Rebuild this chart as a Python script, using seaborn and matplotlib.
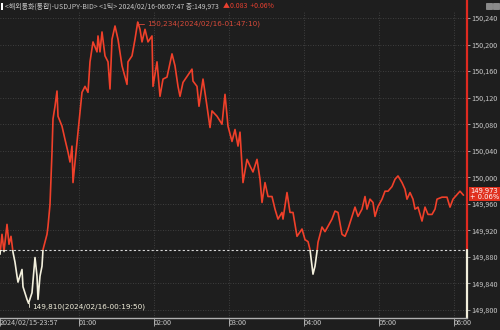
import numpy as np
import pandas as pd
import matplotlib
matplotlib.use("Agg")
import matplotlib.pyplot as plt
import matplotlib.dates as mdates
import matplotlib.transforms as mtransforms
from matplotlib.patches import Rectangle
import seaborn as sns

# ---- data ----
start_time = "2024-02-15 23:57"
minutes = [0, 1.6, 3.2, 5.6, 7.2, 8.8, 10.4, 12, 13.6, 14.4, 17.6, 18.4, 21.6, 22.83, 25.6, 28,
           29.6, 30.4, 32, 33.6, 34.4, 37.6, 38.4, 40, 41.6, 42.4, 44, 45.6, 46.4, 49.6, 52, 54.4,
           56, 57.6, 58.4, 60, 62.4, 65.6, 68, 70.4, 72, 74.4, 77.6, 78.4, 80, 81.6, 84, 86.4, 88,
           89.6, 92, 94.4, 97.6, 101.6, 102.4, 105.6, 108, 110.17, 112, 113.6, 116, 118.4, 121.6,
           122.4, 125.6, 128, 130.4, 133.6, 137.6, 140, 142.4, 144, 146.4, 149.6, 153.6, 154.4,
           157.6, 159.2, 162.4, 165.6, 168, 169.6, 173.6, 177.6, 180, 182.4, 185.6, 188, 190.4,
           192, 193.6, 194.4, 197.6, 200, 202.4, 205.6, 208, 209.6, 212, 214.4, 217.6, 220, 222.4,
           225.6, 226.4, 229.6, 232, 234.4, 237.6, 241.6, 244, 246.4, 248, 249.6, 250.4, 252,
           253.6, 254.4, 257.6, 260, 262.4, 265.6, 268, 270.4, 273.6, 276, 278.4, 281.6, 284,
           286.4, 289.6, 292, 293.6, 296, 298.4, 300, 302.4, 305.6, 308, 310.4, 313.6, 316, 318.4,
           321.6, 324, 325.6, 328, 330.4, 332, 334.4, 337.6, 340, 342.4, 345.6, 348, 349.6, 353.6,
           357.6, 360, 362.4, 365.6, 368, 370.8]
prices = [149.884, 149.914, 149.888, 149.929, 149.899, 149.911, 149.887, 149.872, 149.851,
          149.842, 149.861, 149.835, 149.816, 149.810, 149.826, 149.879, 149.851, 149.816,
          149.851, 149.866, 149.891, 149.914, 149.926, 149.959, 150.038, 150.088, 150.107,
          150.130, 150.092, 150.077, 150.057, 150.038, 150.023, 150.047, 149.992, 150.023,
          150.068, 150.128, 150.137, 150.128, 150.174, 150.204, 150.189, 150.213, 150.189,
          150.219, 150.183, 150.174, 150.133, 150.208, 150.228, 150.208, 150.168, 150.140,
          150.174, 150.183, 150.208, 150.234, 150.223, 150.204, 150.223, 150.204, 150.213,
          150.137, 150.174, 150.122, 150.148, 150.151, 150.186, 150.168, 150.137, 150.122,
          150.143, 150.152, 150.163, 150.145, 150.137, 150.107, 150.148, 150.107, 150.075,
          150.100, 150.092, 150.080, 150.125, 150.077, 150.054, 150.072, 150.047, 150.068,
          150.017, 149.992, 150.027, 150.017, 150.008, 150.027, 149.997, 149.962, 149.992,
          149.971, 149.971, 149.952, 149.937, 149.947, 149.937, 149.977, 149.947, 149.947,
          149.911, 149.922, 149.906, 149.903, 149.891, 149.866, 149.854, 149.866, 149.888,
          149.902, 149.925, 149.918, 149.926, 149.937, 149.949, 149.947, 149.914, 149.911,
          149.922, 149.941, 149.955, 149.941, 149.952, 149.971, 149.952, 149.967, 149.962,
          149.941, 149.956, 149.967, 149.979, 149.979, 149.986, 149.997, 150.002, 149.992,
          149.982, 149.967, 149.977, 149.967, 149.952, 149.955, 149.934, 149.955, 149.944,
          149.944, 149.952, 149.967, 149.970, 149.970, 149.955, 149.967, 149.974, 149.979,
          149.973]
prev_close = 149.890
y_ticks = [149.80, 149.84, 149.88, 149.92, 149.96, 150.00, 150.04, 150.08, 150.12, 150.16, 150.20, 150.24]
hour_ticks = ["01:00", "02:00", "03:00", "04:00", "05:00", "06:00"]
first_label = "2024/02/15-23:57"
title_main = "<해외통화(통합)-USDJPY-BID> <1틱> 2024/02/16-06:07:47 종:149,973"
title_change = "▲0.083  +0.06%"
high_label = "150,234(2024/02/16-01:47:10)"
low_label = "149,810(2024/02/16-00:19:50)"
last_label = "149,973\n+ 0.06%"

# ---- style ----
BG = "#1e1e1e"
RED = "#f0402a"
CREAM = "#f2efdc"
TXT = "#c8c8c8"
GRID = "#4a4a4a"

sns.set_theme(style="dark")
plt.rcParams["font.family"] = ["Noto Sans CJK KR", "DejaVu Sans"]

t0 = pd.Timestamp(start_time)
df = pd.DataFrame({"time": t0 + pd.to_timedelta(minutes, unit="min"), "price": prices})

W, H = 500, 330
fig = plt.figure(figsize=(W / 100, H / 100), dpi=100, facecolor=BG)
ax = fig.add_axes([0 / W, 1 - 318 / H, 467 / W, (318 - 11) / H])
ax.set_facecolor(BG)

# red part (above prev close) and cream part (below)
sns.lineplot(data=df, x="time", y="price", ax=ax, color=RED, lw=1.2, sort=False, estimator=None)
sns.lineplot(data=df, x="time", y="price", ax=ax, color=CREAM, lw=1.2, sort=False, estimator=None)
l_red, l_wht = ax.lines[0], ax.lines[1]

xmin = t0
xmax = t0 + pd.Timedelta(minutes=373.6)
ax.set_xlim(xmin, xmax)
ymin, ymax = 149.7879, 150.2506
ax.set_ylim(ymin, ymax)

xl = mdates.date2num(xmin)
xr = mdates.date2num(xmax)
r_up = Rectangle((xl, prev_close), xr - xl, ymax - prev_close, transform=ax.transData)
r_dn = Rectangle((xl, ymin), xr - xl, prev_close - ymin, transform=ax.transData)
l_red.set_clip_path(r_up)
l_wht.set_clip_path(r_dn)

# previous close dashed line
ax.axhline(prev_close, color="#d8d8d8", lw=0.8, ls=(0, (2, 2)), zorder=1)

# grid
for v in y_ticks:
    ax.axhline(v, color=GRID, lw=0.6, ls=(0, (1, 2)), zorder=0)
hour_times = [pd.Timestamp("2024-02-16 " + h) for h in hour_ticks]
for ht in hour_times:
    ax.axvline(ht, color=GRID, lw=0.6, ls=(0, (1, 2)), zorder=0)

# axes / ticks
for s in ["left", "top", "right"]:
    ax.spines[s].set_visible(False)
ax.spines["bottom"].set_color("#b0b0b0")
ax.spines["bottom"].set_linewidth(1.0)

ax.set_xticks([xmin] + hour_times)
ax.set_xticklabels([first_label] + hour_ticks)
shift = mtransforms.ScaledTranslation(1.5 / 100, 0, fig.dpi_scale_trans)
for lab in ax.get_xticklabels():
    lab.set_ha("left")
    lab.set_transform(lab.get_transform() + shift)
ax.tick_params(axis="x", colors="#b0b0b0", labelcolor=TXT, labelsize=5.2, length=6,
               width=0.6, direction="out", pad=-5.6, bottom=True)

ax.yaxis.tick_right()
ax.set_yticks(y_ticks)
ax.set_yticklabels([f"{v:.3f}".replace(".", ",") for v in y_ticks])
ax.tick_params(axis="y", colors="#b0b0b0", labelcolor=TXT, labelsize=5.2, length=2.5,
               width=0.6, direction="out", pad=0.8, right=True)
ax.set_xlabel("")
ax.set_ylabel("")

# right border line: red above prev close, cream below
trans_b = mtransforms.blended_transform_factory(ax.transAxes, ax.transData)
ax.plot([1, 1], [prev_close, ymax + 0.02], color="#e02a20", lw=1.6, transform=trans_b, clip_on=False)
ax.plot([1, 1], [ymin, prev_close], color=CREAM, lw=1.6, transform=trans_b, clip_on=False)

# high / low annotations
i_hi = int(np.argmax(prices))
i_lo = int(np.argmin(prices))
ax.annotate(high_label, xy=(df["time"][i_hi], prices[i_hi]), xytext=(7, -1.5),
            textcoords="offset points", color="#d84a3a", fontsize=5.2, va="center",
            family=["DejaVu Sans"],
            arrowprops=dict(arrowstyle="-", color="#d84a3a", lw=0.6, shrinkA=0, shrinkB=0,
                            connectionstyle="angle,angleA=0,angleB=90,rad=0"))
ax.annotate(low_label, xy=(df["time"][i_lo], prices[i_lo]), xytext=(2.5, -2.5),
            textcoords="offset points", color=CREAM, fontsize=5.2, va="center",
            family=["DejaVu Sans"],
            arrowprops=dict(arrowstyle="-", color=CREAM, lw=0.6, shrinkA=0, shrinkB=0,
                            connectionstyle="angle,angleA=0,angleB=90,rad=0"))

# last price label box
ax.text(1.007, prices[-1] + 0.002, last_label, transform=trans_b, color="white", fontsize=4.9,
        ha="left", va="center", linespacing=0.95, family=["DejaVu Sans"],
        bbox=dict(boxstyle="square,pad=0.2", fc="#e0301e", ec="none"), clip_on=False)

# title bar
fig.patches.append(Rectangle((1 / W, 1 - 10 / H), 2 / W, 7 / H, transform=fig.transFigure,
                             fc="white", ec="none"))
t1 = fig.text(5 / W, 1 - 6.5 / H, title_main, color=TXT, fontsize=5.0, va="center", ha="left")
fig.canvas.draw()
bb = t1.get_window_extent()
fig.text(bb.x1 / W + 4 / W, 1 - 6.5 / H, title_change, color="#e84030", fontsize=5.0,
         va="center", ha="left")

# top-right window icons
for x0 in (486, 493):
    fig.patches.append(Rectangle((x0 / W, 1 - 9 / H), 6 / W, 6 / H, transform=fig.transFigure,
                                 fc="#8a8a8a", ec="#b0b0b0", lw=0.4))

fig.savefig("out.png", dpi=100, facecolor=BG)
